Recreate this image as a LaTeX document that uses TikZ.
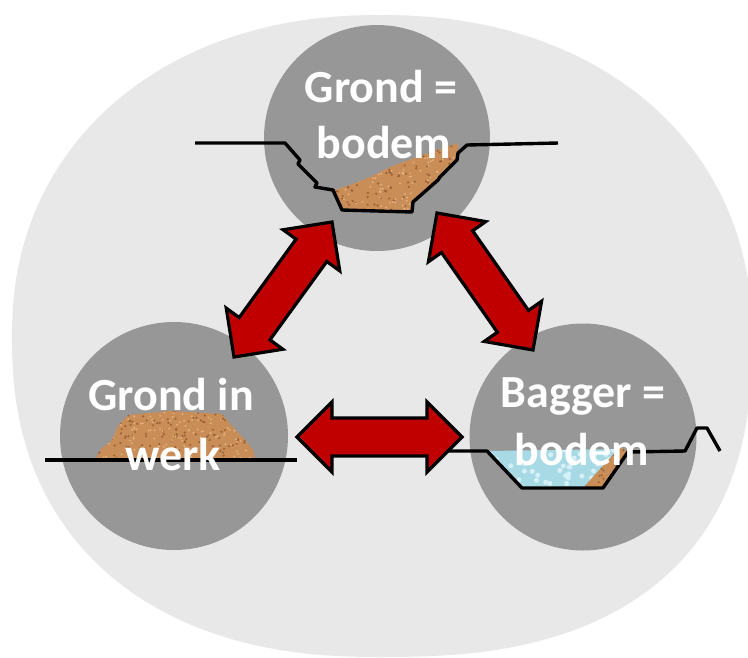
\documentclass[tikz,border=0pt]{standalone}
\usepackage{fontspec}
\setmainfont{Carlito}
\usetikzlibrary{calc}
\definecolor{bigbg}{HTML}{E8E8E8}
\definecolor{disccol}{HTML}{979797}
\definecolor{arrowred}{HTML}{C00000}
\definecolor{sandcol}{HTML}{C98D58}
\definecolor{sanddark}{HTML}{9C6236}
\definecolor{sandlight}{HTML}{E4B683}
\definecolor{watercol}{HTML}{A8DAE6}
\definecolor{waterlight}{HTML}{D6F0F6}
\newcommand\dblarrow[2]{%
  \draw[arrowstyle] (#1)
    -- ($(#1)!35pt!(#2)!35pt!90:(#2)$)
    -- ($(#1)!35pt!(#2)!19pt!90:(#2)$)
    -- ($(#2)!35pt!(#1)!19pt!-90:(#1)$)
    -- ($(#2)!35pt!(#1)!35pt!-90:(#1)$)
    -- (#2)
    -- ($(#2)!35pt!(#1)!35pt!90:(#1)$)
    -- ($(#2)!35pt!(#1)!19pt!90:(#1)$)
    -- ($(#1)!35pt!(#2)!19pt!-90:(#2)$)
    -- ($(#1)!35pt!(#2)!35pt!-90:(#2)$)
    -- cycle;}
\begin{document}
\begin{tikzpicture}[x=1pt,y=-1pt,
  disc/.style={circle,fill=disccol,minimum size=#1,inner sep=0pt},
  ground/.style={draw=black,line width=3.4pt,line join=round,line cap=butt},
  arrowstyle/.style={fill=arrowred,draw=black,line width=3.2pt,line join=miter},
  lbl/.style={font=\bfseries\fontsize{46}{46}\selectfont,text=white,inner sep=0pt,anchor=base}]
\useasboundingbox (0,0) rectangle (748,657);
\fill[white] (0,0) rectangle (748,657);
\begin{scope}
\clip (0,0) rectangle (748,657);
\fill[bigbg]
  plot[domain=0:90,samples=60,variable=\t]
    ({380+372*pow(max(abs(cos(\t)),0.0001),2/2.5)},{336+321*pow(max(abs(sin(\t)),0.0001),2/2.5)})
  -- plot[domain=90:180,samples=60,variable=\t]
    ({380-368*pow(max(abs(cos(\t)),0.0001),2/2.3)},{336+321*pow(max(abs(sin(\t)),0.0001),2/2.3)})
  -- plot[domain=180:270,samples=60,variable=\t]
    ({380-368*pow(max(abs(cos(\t)),0.0001),2/2.15)},{336-321*pow(max(abs(sin(\t)),0.0001),2/2.15)})
  -- plot[domain=270:360,samples=60,variable=\t]
    ({380+372*pow(max(abs(cos(\t)),0.0001),2/2.15)},{336-321*pow(max(abs(sin(\t)),0.0001),2/2.15)})
  -- cycle;
\end{scope}

% discs
\node[disc=226pt] (top) at (377,138) {};
\node[disc=228pt] (left) at (174,436) {};
\node[disc=227pt] (right) at (583,437) {};

% sand in top excavation
\begin{scope}
\clip (335,190) -- (350,185) -- (370,177) -- (390,167) -- (417,157) -- (443,148) -- (458,143)
  -- (458,153) -- (457,160) -- (440,177) -- (438,180) -- (413,202) -- (412,212) -- (342,210) -- cycle;
\fill[sandcol] (320,135) rectangle (470,220);
\pgfmathsetseed{7}
\foreach \i in {1,...,160}{\fill[sanddark] ({330+135*rnd},{140+75*rnd}) circle (1.2pt);}
\foreach \i in {1,...,140}{\fill[sandlight] ({330+135*rnd},{140+75*rnd}) circle (1pt);}
\end{scope}

% sand heap left
\begin{scope}
\clip (95,460) -- (100,450) -- (112,440) -- (118,426) -- (128,415) -- (170,411) -- (222,414)
  -- (232,426) -- (245,440) -- (253,450) -- (255,460) -- cycle;
\fill[sandcol] (90,405) rectangle (260,462);
\pgfmathsetseed{11}
\foreach \i in {1,...,160}{\fill[sanddark] ({92+165*rnd},{408+55*rnd}) circle (1.2pt);}
\foreach \i in {1,...,140}{\fill[sandlight] ({92+165*rnd},{408+55*rnd}) circle (1pt);}
\end{scope}

% water and sand right
\begin{scope}
\clip (487,451) -- (522,488) -- (583,488) -- (620,449) -- cycle;
\fill[watercol] (480,445) rectangle (630,492);
\pgfmathsetseed{3}
\foreach \i in {1,...,60}{\fill[waterlight] ({485+140*rnd},{448+42*rnd}) circle (2.5pt);}
\end{scope}
\begin{scope}
\clip (583,488) -- (603,488) -- (628,452) -- (620,447) -- cycle;
\fill[sandcol] (580,445) rectangle (632,492);
\pgfmathsetseed{5}
\foreach \i in {1,...,40}{\fill[sanddark] ({580+50*rnd},{445+45*rnd}) circle (1.1pt);}
\end{scope}

% ground lines
\draw[ground] (195,143) -- (285,143) -- (300,160) -- (298,164) -- (317,183) -- (315,187)
  -- (333,190) -- (342,210) -- (412,212) -- (413,202) -- (438,180) -- (440,177)
  -- (457,160) -- (458,153) -- (467,145) -- (558,143);
\draw[ground] (45,460) -- (297,460);
\draw[ground] (448,451) -- (487,451) -- (522,488) -- (603,488) -- (628,452) -- (685,451)
  -- (697,428) -- (707,428) -- (720,451);

% labels
\node[lbl] (ta) at (381,102) {Grond =};
\node[lbl] (tb) at (384,158) {bodem};
\node[lbl] (la) at (171,410) {Grond in};
\node[lbl] (lb) at (173,470) {werk};
\node[lbl] (ra) at (583,407) {Bagger =};
\node[lbl] (rb) at (582,465) {bodem};

% arrows
\coordinate (t1) at (332,222);
\coordinate (l1) at (234,357);
\coordinate (t2) at (437,213);
\coordinate (r2) at (533,350);
\coordinate (l3) at (297,437);
\coordinate (r3) at (462,437);
\dblarrow{t1}{l1}
\dblarrow{t2}{r2}
\dblarrow{l3}{r3}
\end{tikzpicture}
\end{document}
